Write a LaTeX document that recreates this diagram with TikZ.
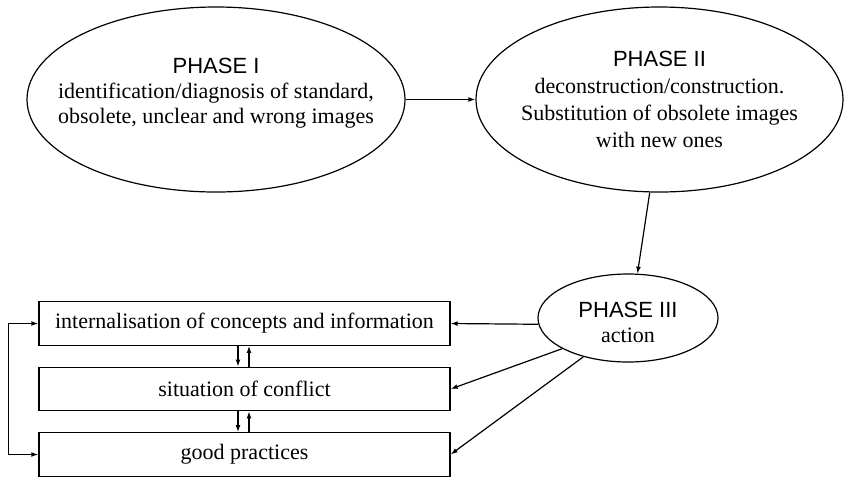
\documentclass[tikz,border=0pt]{standalone}
\usepackage{fontspec}
\setmainfont{Liberation Serif}
\newfontfamily\phasefont{Liberation Sans}
\usepackage{tikz}
\usetikzlibrary{shapes,arrows.meta,positioning,calc}

\begin{document}
\begin{tikzpicture}[x=0.5pt, y=-0.5pt, line width=0.6pt,
  >={Latex[length=3.5pt,width=2.4pt]},
  phase/.style={draw, ellipse, inner sep=0pt},
  txt/.style={align=center, inner sep=0pt, font=\fontsize{11}{13.5}\selectfont},
  stage/.style={draw, rectangle, minimum width=205.5pt, minimum height=21.75pt,
    font=\fontsize{11}{13.5}\selectfont}]
\useasboundingbox (0,0) rectangle (845,478);
% the three phases
\node[phase, minimum width=189pt, minimum height=92.5pt] (p1) at (216,99.5) {};
\node[phase, right of=p1, node distance=221.75pt, minimum width=183.5pt, minimum height=92.5pt] (p2) {};
\node[phase, minimum width=90pt, minimum height=44pt] (p3) at (628,318) {};
\node[txt, yshift=3.25pt, font=\fontsize{11}{12.5}\selectfont] (t1) at (p1)
  {{\phasefont PHASE I}\\identification/diagnosis of standard,\\obsolete, unclear and wrong images};
\node[txt] (t2) at (p2)
  {{\phasefont PHASE II}\\deconstruction/construction.\\Substitution of obsolete images\\with new ones};
\node[txt, yshift=-2pt, font=\fontsize{11}{12.5}\selectfont] (t3) at (p3)
  {{\phasefont PHASE III}\\action};
% outcomes
\node[stage] (b1) at (244.5,323.5) {internalisation of concepts and information};
\node[stage, below of=b1, node distance=32.75pt] (b2) {situation of conflict};
\node[stage, below of=b2, node distance=32.75pt] (b3) {good practices};
\draw[->] (p1) -- (p2);
\draw[->] (p2.264.7) -- (p3.78);
\draw[->] (p3.184) -- (b1.east);
\draw[->] (p3.205) -- (b2.east);
\draw[->] (p3.221.5) -- (b3.east);
\draw[->] ([xshift=-3.25pt]b1.south) -- ([xshift=-3.25pt]b2.north);
\draw[->] ([xshift=2.25pt]b2.north) -- ([xshift=2.25pt]b1.south);
\draw[->] ([xshift=-3.25pt]b2.south) -- ([xshift=-3.25pt]b3.north);
\draw[->] ([xshift=2.25pt]b3.north) -- ([xshift=2.25pt]b2.south);
\draw[<->] (b3.west) -- ++(-30,0) |- (b1.west);
\end{tikzpicture}
\end{document}
